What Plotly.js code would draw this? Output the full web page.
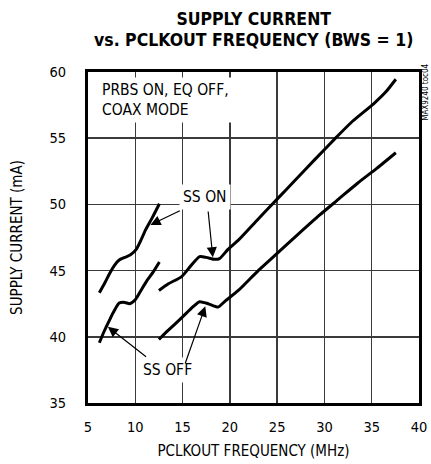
<!DOCTYPE html>
<html>
<head>
<meta charset="utf-8">
<script src="https://cdn.plot.ly/plotly-3.0.1.min.js"></script>
<style>html,body{margin:0;padding:0;background:#fff;}#chart{width:431px;height:464px;}</style>
</head>
<body>
<div id="chart"></div>
<script>
// Data
const ssOnLowX  = [6.2, 6.8, 7.3, 7.8, 8.3, 8.9, 9.5, 10.1, 10.6, 11.1, 11.8, 12.55];
const ssOnLowY  = [43.33, 44.1, 44.8, 45.4, 45.8, 46.0, 46.2, 46.6, 47.3, 48.1, 49.0, 50.05];
const ssOffLowX = [6.2, 6.7, 7.3, 7.8, 8.3, 8.9, 9.4, 10.0, 10.6, 11.2, 11.9, 12.55];
const ssOffLowY = [39.55, 40.4, 41.3, 42.0, 42.55, 42.6, 42.5, 42.8, 43.5, 44.2, 44.9, 45.65];
const ssOnHighX = [12.5, 13.5, 14.9, 15.8, 16.8, 17.5, 18.4, 18.9, 19.8, 20.9, 23, 25, 27, 29, 31.3, 33, 35.2, 36.5, 37.55];
const ssOnHighY = [43.5, 44.0, 44.55, 45.3, 46.05, 46.0, 45.85, 45.9, 46.6, 47.3, 48.9, 50.4, 51.9, 53.4, 55.1, 56.3, 57.6, 58.5, 59.45];
const ssOffHighX = [12.5, 13.5, 15.0, 16.0, 16.8, 17.7, 18.75, 19.5, 20.9, 23, 25, 27, 29.5, 31.5, 33.5, 35.5, 37.55];
const ssOffHighY = [39.8, 40.5, 41.5, 42.2, 42.65, 42.5, 42.25, 42.7, 43.5, 45.0, 46.3, 47.6, 49.2, 50.4, 51.6, 52.7, 53.9];
const xTicks = [5, 10, 15, 20, 25, 30, 35, 40];
const yTicks = [35, 40, 45, 50, 55, 60];

const FONT = '"DejaVu Sans Condensed", "Liberation Sans Narrow", sans-serif';
const lineStyle = {color: '#000', width: 3, shape: 'spline', smoothing: 0.6};
function tr(x, y, name) {
  return {x: x, y: y, type: 'scatter', mode: 'lines', name: name, line: lineStyle, hoverinfo: 'skip'};
}
const traces = [
  tr(ssOnLowX, ssOnLowY, 'SS ON'),
  tr(ssOffLowX, ssOffLowY, 'SS OFF'),
  tr(ssOnHighX, ssOnHighY, 'SS ON'),
  tr(ssOffHighX, ssOffHighY, 'SS OFF')
];

function arrow(tipX, tipY, tailX, tailY) {
  return {x: tipX, y: tipY, ax: tailX, ay: tailY, xref: 'x', yref: 'y', axref: 'x', ayref: 'y',
          text: '', showarrow: true, arrowhead: 2, arrowsize: 1.7, arrowwidth: 1.2, arrowcolor: '#000', standoff: 0};
}
const txt = {family: FONT, size: 15.5, color: '#000'};
const annotations = [
  {text: 'vs. PCLKOUT FREQUENCY (BWS = 1)', xref: 'paper', yref: 'paper', x: 0.5, y: 1.097, yanchor: 'middle',
   showarrow: false, font: {family: FONT, size: 17.5, color: '#000', weight: 'bold'}},
  {text: 'PRBS ON, EQ OFF,<br>COAX MODE', xref: 'x', yref: 'y', x: 6.05, y: 57.9, xanchor: 'left', yanchor: 'middle',
   align: 'left', showarrow: false, font: txt, bgcolor: '#fff', borderpad: 3},
  {text: 'SS ON', xref: 'x', yref: 'y', x: 17.34, y: 50.56, showarrow: false, font: txt, bgcolor: '#fff', borderpad: 3},
  {text: 'SS OFF', xref: 'x', yref: 'y', x: 13.4, y: 37.5, showarrow: false, font: txt, bgcolor: '#fff', borderpad: 3},
  arrow(11.6, 48.45, 14.87, 49.58),
  arrow(18.2, 46.0, 17.69, 49.58),
  arrow(7.1, 40.75, 11.3, 38.4),
  arrow(17.4, 42.3, 15.22, 37.87),
  {text: 'MAX9240 toc04', xref: 'paper', yref: 'paper', x: 1.021, y: 0.94, xanchor: 'center', yanchor: 'middle',
   textangle: -90, showarrow: false, borderpad: 0, font: {family: FONT, size: 8, color: '#000'}}
];

const axisCommon = {
  showgrid: true, gridcolor: '#3a3a3a', gridwidth: 1.5,
  showline: true, mirror: true, linecolor: '#000', linewidth: 3,
  zeroline: false, ticks: '', tickfont: {family: FONT, size: 14.5, color: '#000'},
  fixedrange: true
};
const layout = {
  width: 431, height: 464,
  margin: {l: 88, r: 12, t: 72, b: 61},
  paper_bgcolor: '#fff', plot_bgcolor: '#fff',
  showlegend: false,
  title: {text: 'SUPPLY CURRENT', x: 0.5887, xanchor: 'center', y: 0.959, yanchor: 'middle', yref: 'container',
          font: {family: FONT, size: 17.5, color: '#000', weight: 'bold'}},
  xaxis: Object.assign({}, axisCommon, {
    range: [5, 40], tickvals: xTicks, ticktext: xTicks.map(String), ticklabelstandoff: 9,
    title: {text: 'PCLKOUT FREQUENCY (MHz)', font: {family: FONT, size: 15, color: '#000'}, standoff: 12}
  }),
  yaxis: Object.assign({}, axisCommon, {
    range: [35, 60], tickvals: yTicks, ticktext: yTicks.map(String), ticklabelstandoff: 16,
    title: {text: 'SUPPLY CURRENT (mA)', font: {family: FONT, size: 15, color: '#000'}, standoff: 24}
  }),
  annotations: annotations
};
Plotly.newPlot('chart', traces, layout, {displayModeBar: false, staticPlot: true});
</script>
</body>
</html>
